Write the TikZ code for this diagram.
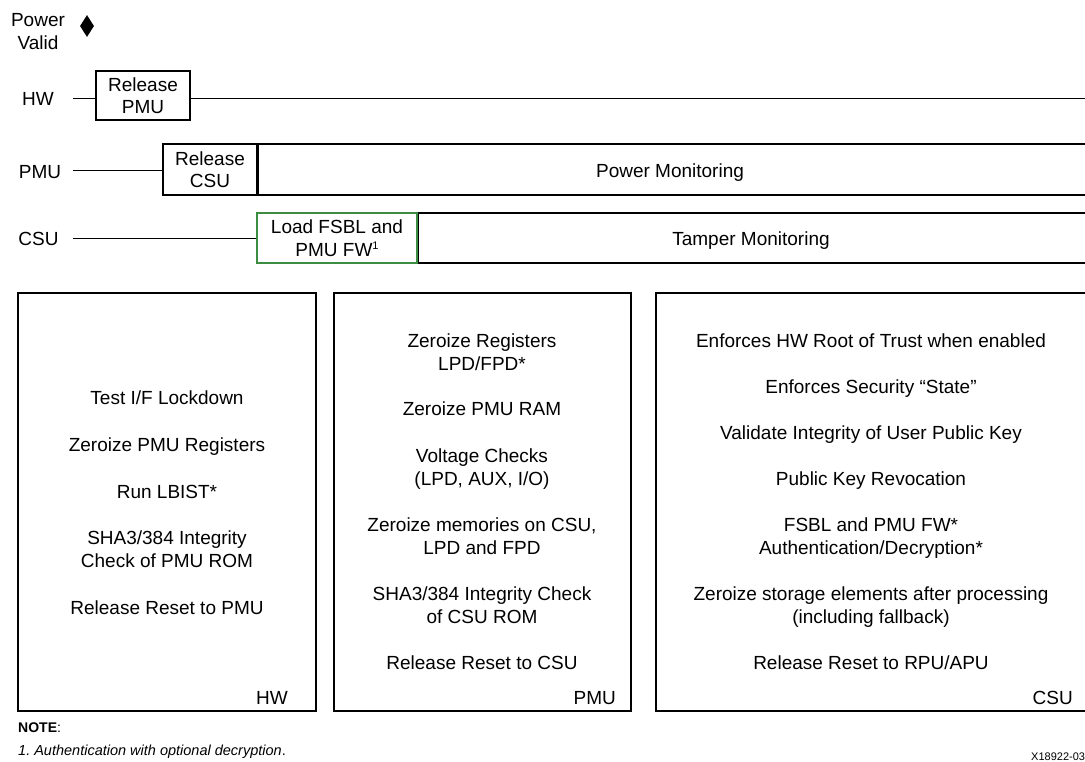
\documentclass[tikz,border=0pt]{standalone}
\usepackage{fontspec}
\setmainfont{Liberation Sans}
\usetikzlibrary{shapes.geometric}
\definecolor{boxgreen}{RGB}{60,140,66}
\begin{document}
\begin{tikzpicture}[x=1pt,y=-1pt,
  bodyfont/.style={font=\fontsize{19}{22}\selectfont},
  txt/.style={bodyfont,anchor=base,inner sep=0pt},
  rtxt/.style={bodyfont,anchor=base east,inner sep=0pt},
  stepbox/.style={draw=black,line width=1.6pt,bodyfont,align=center,inner sep=0pt},
  panel/.style={draw=black,line width=1.6pt},
  tline/.style={draw=black,line width=0.9pt}]
\clip (0,0) rectangle (1085,761);
\fill[white] (0,0) rectangle (1085,761);

% Power valid
\node[txt] (pw1) at (38,26) {Power};
\node[txt] (pw2) at (38,49) {Valid};
\node[diamond,fill=black,inner sep=0pt,minimum width=14pt,minimum height=22pt] (dia) at (87,26) {};

% Row labels
\node[txt] (lhw) at (38,105) {HW};
\node[txt] (lpmu) at (40,178) {PMU};
\node[txt] (lcsu) at (38.5,245) {CSU};
\coordinate (hwst) at (73,98);
\coordinate (pmust) at (73,170);
\coordinate (csust) at (73,238);
\coordinate (hwend) at (1090,98);

% HW row
\node[stepbox,minimum width=94pt,minimum height=49pt] (relpmu) at (143,95.5) {Release\\PMU};
\draw[tline] (hwst) -- (hwst -| relpmu.west);
\draw[tline] (hwst -| relpmu.east) -- (hwend);

% PMU row
\node[stepbox,minimum width=94pt,minimum height=51pt] (relcsu) at (210,169.5) {Release\\CSU};
\draw[tline] (pmust) -- (pmust -| relcsu.west);
\node[stepbox,minimum width=836pt,minimum height=51pt,anchor=west] (powmon) at (257,169.5) {};
\node[txt] (powmontxt) at (670,177) {Power Monitoring};

% CSU row
\node[stepbox,minimum width=836pt,minimum height=50pt,anchor=west] (tampmon) at (417,238) {};
\node[txt] (tampmontxt) at (751,245) {Tamper Monitoring};
\node[stepbox,draw=boxgreen,fill=white,minimum width=160pt,minimum height=50pt] (loadfsbl) at (337,238) {};
\node[txt] (lf1) at (337,233) {Load FSBL and};
\node[txt] (lf2) at (337,256) {PMU FW\raisebox{7pt}{\fontsize{11}{11}\selectfont 1}};
\draw[tline] (csust) -- (loadfsbl.west);

% Panels
\draw[panel] (18,293) rectangle (316,711);
\draw[panel] (334,293) rectangle (631,711);
\draw[panel] (656,293) rectangle (1095,711);

% HW panel text
\node[txt] (hw1) at (167,404) {Test I/F Lockdown};
\node[txt] (hw2) at (167,451) {Zeroize PMU Registers};
\node[txt] (hw3) at (167,498) {Run LBIST*};
\node[txt] (hw4) at (167,544) {SHA3/384 Integrity};
\node[txt] (hw5) at (167,567) {Check of PMU ROM};
\node[txt] (hw6) at (167,614) {Release Reset to PMU};
\node[rtxt] (hwlab) at (288,704) {HW};

% PMU panel text
\node[txt] (pm1) at (482,347) {Zeroize Registers};
\node[txt] (pm2) at (482,370) {LPD/FPD*};
\node[txt] (pm3) at (482,415) {Zeroize PMU RAM};
\node[txt] (pm4) at (482,462) {Voltage Checks};
\node[txt] (pm5) at (482,485) {(LPD, AUX, I/O)};
\node[txt] (pm6) at (482,531) {Zeroize memories on CSU,};
\node[txt] (pm7) at (482,554) {LPD and FPD};
\node[txt] (pm8) at (482,600) {SHA3/384 Integrity Check};
\node[txt] (pm9) at (482,623) {of CSU ROM};
\node[txt] (pm10) at (482,669) {Release Reset to CSU};
\node[rtxt] (pmlab) at (616,704) {PMU};

% CSU panel text
\node[txt] (cs1) at (871,347) {Enforces HW Root of Trust when enabled};
\node[txt] (cs2) at (871,393) {Enforces Security “State”};
\node[txt] (cs3) at (871,439) {Validate Integrity of User Public Key};
\node[txt] (cs4) at (871,485) {Public Key Revocation};
\node[txt] (cs5) at (871,531) {FSBL and PMU FW*};
\node[txt] (cs6) at (871,554) {Authentication/Decryption*};
\node[txt] (cs7) at (871,600) {Zeroize storage elements after processing};
\node[txt] (cs8) at (871,623) {(including fallback)};
\node[txt] (cs9) at (871,669) {Release Reset to RPU/APU};
\node[rtxt] (cslab) at (1073,704) {CSU};

% Notes
\node[anchor=base west,inner sep=0pt,font=\fontsize{14}{16}\selectfont] (note) at (18,732) {\textbf{NOTE}:};
\node[anchor=base west,inner sep=0pt,font=\fontsize{14.5}{17}\selectfont] (note1) at (18,755) {\textit{1.\ Authentication with optional decryption}.};
\node[anchor=base west,inner sep=0pt,font=\fontsize{11}{13}\selectfont] (fig) at (1031,760) {X18922-03};
\end{tikzpicture}
\end{document}
